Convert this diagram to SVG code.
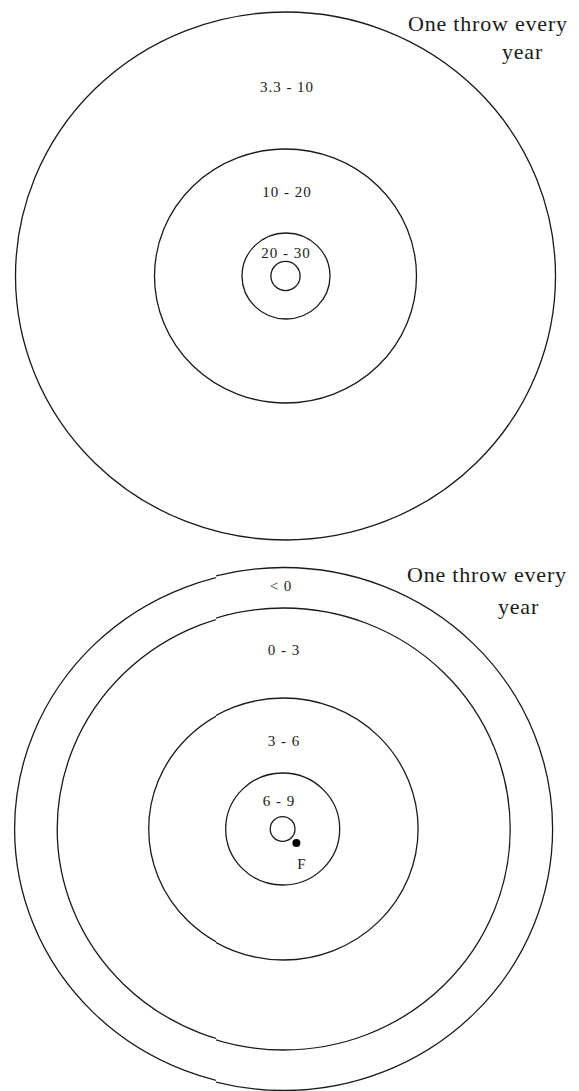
<svg xmlns="http://www.w3.org/2000/svg" width="579" height="1091" viewBox="0 0 579 1091">
<style>
.ring{fill:none;stroke:#1a1a1a;stroke-width:1.3}
.lbl{font-family:"Liberation Serif","Times New Roman",serif;font-size:15px;fill:#1a1a1a;letter-spacing:1px;text-anchor:middle}
.ttl{font-family:"Liberation Serif","Times New Roman",serif;font-size:22px;fill:#1a1a1a;letter-spacing:0.8px}
</style>
<defs>
  <clipPath id="clipL"><rect x="0" y="540" width="216" height="551"/></clipPath>
  <clipPath id="clipR"><rect x="216" y="540" width="363" height="551"/></clipPath>
  <g id="bottom-rings">
    <ellipse id="bot-outer" class="ring" cx="283.6" cy="829" rx="269" ry="261.5"/>
    <ellipse id="bot-second" class="ring" cx="283.7" cy="829" rx="226.5" ry="221"/>
    <ellipse id="bot-third" class="ring" cx="283.4" cy="829" rx="134.7" ry="131"/>
  </g>
</defs>
<rect width="579" height="1091" fill="#ffffff"/>
<g id="top-diagram">
  <ellipse id="top-outer" class="ring" cx="285.5" cy="276" rx="270" ry="264"/>
  <ellipse id="top-middle" class="ring" cx="285.5" cy="276" rx="131" ry="127"/>
  <ellipse id="top-ring" class="ring" cx="286" cy="276" rx="44" ry="43"/>
  <circle id="top-inner" class="ring" cx="285.5" cy="276" r="14.6"/>
  <text class="lbl" x="287" y="92">3.3 - 10</text>
  <text class="lbl" x="287" y="197">10 - 20</text>
  <text class="lbl" x="286" y="258">20 - 30</text>
  <text class="ttl" x="408" y="31">One throw every</text>
  <text class="ttl" x="502" y="59">year</text>
</g>
<g id="bottom-diagram">
  <use href="#bottom-rings" clip-path="url(#clipR)"/>
  <use href="#bottom-rings" clip-path="url(#clipL)" transform="translate(0,829) scale(1,0.993) translate(0,-829)"/>
  <ellipse id="bot-fourth" class="ring" cx="282.7" cy="829" rx="57" ry="56"/>
  <circle id="bot-inner" class="ring" cx="282.6" cy="829" r="12.4"/>
  <circle id="point-F" cx="296.4" cy="843" r="4" fill="#000"/>
  <text class="lbl" x="281" y="591">&lt; 0</text>
  <text class="lbl" x="284" y="655">0 - 3</text>
  <text class="lbl" x="284" y="746">3 - 6</text>
  <text class="lbl" x="279" y="806">6 - 9</text>
  <text class="lbl" x="302" y="869">F</text>
  <text class="ttl" x="407" y="582">One throw every</text>
  <text class="ttl" x="498" y="614">year</text>
</g>
</svg>
